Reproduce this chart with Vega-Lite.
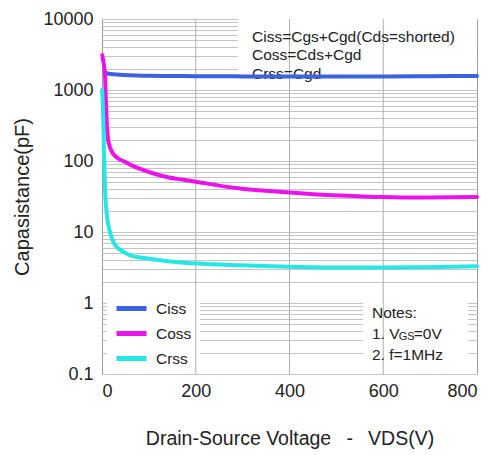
{
  "$schema": "https://vega.github.io/schema/vega-lite/v6.json",
  "autosize": {"type": "none"},
  "padding": {"left": 102, "top": 19, "right": 16, "bottom": 81},
  "width": 375,
  "height": 355,
  "background": "white",
  "config": {
    "font": "Liberation Sans",
    "view": {"stroke": "#9a9a9a", "strokeWidth": 1}
  },
  "datasets": {
    "curves": [
      {"series": "Ciss", "v": 7, "c": 1760},
      {"series": "Ciss", "v": 12, "c": 1710},
      {"series": "Ciss", "v": 20, "c": 1680},
      {"series": "Ciss", "v": 31, "c": 1655},
      {"series": "Ciss", "v": 60, "c": 1610},
      {"series": "Ciss", "v": 100, "c": 1590},
      {"series": "Ciss", "v": 150, "c": 1575},
      {"series": "Ciss", "v": 200, "c": 1565},
      {"series": "Ciss", "v": 300, "c": 1555},
      {"series": "Ciss", "v": 400, "c": 1550},
      {"series": "Ciss", "v": 500, "c": 1550},
      {"series": "Ciss", "v": 600, "c": 1555},
      {"series": "Ciss", "v": 700, "c": 1565},
      {"series": "Ciss", "v": 800, "c": 1575},
      {"series": "Coss", "v": 0.5, "c": 3100},
      {"series": "Coss", "v": 3, "c": 2500},
      {"series": "Coss", "v": 6.4, "c": 1660},
      {"series": "Coss", "v": 8, "c": 800},
      {"series": "Coss", "v": 10, "c": 370},
      {"series": "Coss", "v": 13, "c": 200},
      {"series": "Coss", "v": 18, "c": 150},
      {"series": "Coss", "v": 24, "c": 126},
      {"series": "Coss", "v": 35, "c": 108},
      {"series": "Coss", "v": 45, "c": 100},
      {"series": "Coss", "v": 60, "c": 89},
      {"series": "Coss", "v": 80, "c": 78},
      {"series": "Coss", "v": 100, "c": 70},
      {"series": "Coss", "v": 131, "c": 61},
      {"series": "Coss", "v": 160, "c": 56},
      {"series": "Coss", "v": 194, "c": 52},
      {"series": "Coss", "v": 250, "c": 45},
      {"series": "Coss", "v": 294, "c": 41},
      {"series": "Coss", "v": 350, "c": 38},
      {"series": "Coss", "v": 401, "c": 36},
      {"series": "Coss", "v": 470, "c": 33.5},
      {"series": "Coss", "v": 543, "c": 32},
      {"series": "Coss", "v": 600, "c": 31},
      {"series": "Coss", "v": 685, "c": 30.5},
      {"series": "Coss", "v": 800, "c": 31},
      {"series": "Crss", "v": 0, "c": 1000},
      {"series": "Crss", "v": 1.5, "c": 700},
      {"series": "Crss", "v": 2.8, "c": 365},
      {"series": "Crss", "v": 4.3, "c": 125},
      {"series": "Crss", "v": 6.4, "c": 42},
      {"series": "Crss", "v": 10, "c": 18},
      {"series": "Crss", "v": 17, "c": 10},
      {"series": "Crss", "v": 31, "c": 6.2},
      {"series": "Crss", "v": 45, "c": 5.3},
      {"series": "Crss", "v": 60, "c": 4.7},
      {"series": "Crss", "v": 100, "c": 4.2},
      {"series": "Crss", "v": 131, "c": 3.95},
      {"series": "Crss", "v": 202, "c": 3.6},
      {"series": "Crss", "v": 294, "c": 3.4},
      {"series": "Crss", "v": 401, "c": 3.25},
      {"series": "Crss", "v": 543, "c": 3.15},
      {"series": "Crss", "v": 685, "c": 3.2},
      {"series": "Crss", "v": 800, "c": 3.3}
    ],
    "boxes": [
      {"x1": 290, "x2": 800, "y1": 1150, "y2": 10000},
      {"x1": 10.7, "x2": 209, "y1": 0.12, "y2": 1.25},
      {"x1": 557, "x2": 781, "y1": 0.12, "y2": 1.25}
    ],
    "vgrid": [{"v": 200}, {"v": 400}, {"v": 600}],
    "notes": [
      {"t": "Ciss=Cgs+Cgd(Cds=shorted)", "v": 320, "c": 5570},
      {"t": "Coss=Cds+Cgd", "v": 320, "c": 3110},
      {"t": "Crss=Cgd", "v": 320, "c": 1680},
      {"t": "Notes:", "v": 576, "c": 0.72},
      {"t": "1. V", "v": 576, "c": 0.366},
      {"t": "=0V", "v": 665, "c": 0.366},
      {"t": "2. f=1MHz", "v": 576, "c": 0.185}
    ],
    "subs": [
      {"t": "GS", "v": 633, "c": 0.366}
    ]
  },
  "encoding": {
    "x": {
      "field": "v", "type": "quantitative",
      "scale": {"domain": [0, 800], "nice": false, "zero": false},
      "axis": {
        "values": [0, 200, 400, 600, 800],
        "grid": false, "ticks": false, "domain": false,
        "labelFontSize": 18, "labelColor": "#222", "labelPadding": 8,
        "title": "Drain-Source Voltage \u2002-\u2002 VDS(V)",
        "titleFontSize": 19.5, "titleFontWeight": "normal", "titleColor": "#222",
        "titlePadding": 29
      }
    },
    "y": {
      "field": "c", "type": "quantitative",
      "scale": {"type": "log", "domain": [0.1, 10000], "nice": false},
      "axis": {
        "values": [0.1, 0.2, 0.3, 0.4, 0.5, 0.6, 0.7, 0.8, 0.9, 1, 2, 3, 4, 5, 6, 7, 8, 9, 10, 20, 30, 40, 50, 60, 70, 80, 90, 100, 200, 300, 400, 500, 600, 700, 800, 900, 1000, 2000, 3000, 4000, 5000, 6000, 7000, 8000, 9000, 10000],
        "format": "~f",
        "labelExpr": "indexof(['0.1','1','10','100','1000','10000'], datum.label) >= 0 ? datum.label : ''",
        "grid": true, "gridColor": "#c4c4c4", "gridWidth": 1,
        "ticks": false, "domain": false,
        "labelFontSize": 18, "labelColor": "#222", "labelPadding": 9,
        "title": "Capasistance(pF)",
        "titleFontSize": 20, "titleFontWeight": "normal", "titleColor": "#222",
        "titlePadding": 10
      }
    }
  },
  "layer": [
    {
      "data": {"name": "boxes"},
      "mark": {"type": "rect", "fill": "white", "stroke": null},
      "encoding": {
        "x": {"field": "x1", "type": "quantitative"},
        "x2": {"field": "x2"},
        "y": {"field": "y1", "type": "quantitative"},
        "y2": {"field": "y2"}
      }
    },
    {
      "data": {"name": "vgrid"},
      "mark": {"type": "rule", "color": "#b0b0b0", "strokeWidth": 1},
      "encoding": {
        "x": {"field": "v", "type": "quantitative"},
        "y": null
      }
    },
    {
      "data": {"name": "notes"},
      "mark": {"type": "text", "align": "left", "baseline": "middle", "fontSize": 15.5, "color": "#222"},
      "encoding": {"text": {"field": "t"}}
    },
    {
      "data": {"name": "subs"},
      "mark": {"type": "text", "align": "left", "baseline": "middle", "fontSize": 11, "dy": 3, "color": "#222"},
      "encoding": {"text": {"field": "t"}}
    },
    {
      "data": {"name": "curves"},
      "mark": {"type": "line", "strokeWidth": 4, "interpolate": "monotone", "strokeCap": "round"},
      "encoding": {
        "color": {
          "field": "series", "type": "nominal",
          "scale": {"domain": ["Ciss", "Coss", "Crss"], "range": ["#3d62e0", "#ea14ea", "#27e6e6"]},
          "legend": {
            "orient": "none", "legendX": 15, "legendY": 275,
            "title": null, "symbolType": "M-1.25,0H1.25", "symbolSize": 576,
            "symbolStrokeWidth": 5, "symbolFillColor": "transparent", "labelFontSize": 15.5, "labelColor": "#222",
            "rowPadding": 0, "labelOffset": 10, "padding": 0
          }
        }
      }
    }
  ]
}
